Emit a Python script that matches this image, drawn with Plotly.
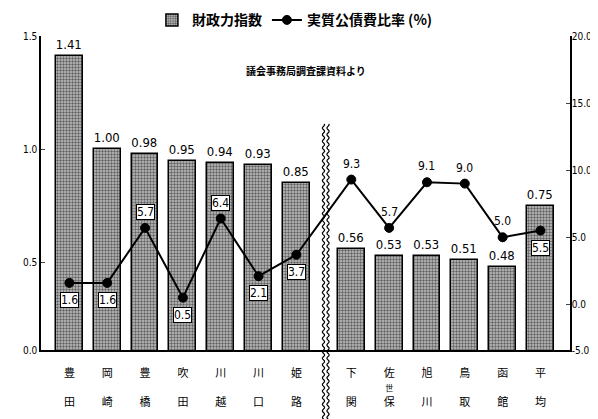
import numpy as np
import plotly.graph_objects as go

cities = ["豊<br> <br>田", "岡<br> <br>崎", "豊<br> <br>橋", "吹<br> <br>田", "川<br> <br>越",
          "川<br> <br>口", "姫<br> <br>路", "下<br> <br>関",
          "佐<br><span style='font-size:8px'>世</span><br>保", "旭<br> <br>川",
          "鳥<br> <br>取", "函<br> <br>館", "平<br> <br>均"]
zaisei = [1.41, 1.00, 0.98, 0.95, 0.94, 0.93, 0.85, 0.56, 0.53, 0.53, 0.51, 0.48, 0.75]
kousai = [1.6, 1.6, 5.7, 0.5, 6.4, 2.1, 3.7, 9.3, 5.7, 9.1, 9.0, 5.0, 5.5]
label_below = [True, True, False, True, False, True, True, False, False, False, False, False, True]
label_boxed = [True, True, True, True, True, True, True, False, False, False, False, False, True]

left_ticks = ["0.0", "0.5", "1.0", "1.5"]
right_ticks = ["-5.0", "0.0", "5.0", "10.0", "15.0", "20.0"]

BREAK_AFTER = 7
GAP = 0.45
xpos = [i + (GAP if i >= BREAK_AFTER else 0) for i in range(len(cities))]

NUM_FONT = "DejaVu Sans Condensed, Noto Sans CJK JP"
JP_FONT = "Noto Sans CJK JP"

fig = go.Figure()
fig.add_trace(go.Bar(
    x=xpos, y=zaisei, name="<b>財政力指数</b>", width=0.71,
    marker=dict(color="#8c8c8c", line=dict(color="black", width=1.5),
                pattern=dict(shape=".", fgcolor="black", bgcolor="#c4c4c4", size=3, solidity=0.5)),
    text=[f"{v:.2f}" for v in zaisei], textposition="outside",
    textfont=dict(family=NUM_FONT, size=13, color="black"),
    cliponaxis=False, yaxis="y",
))
fig.add_trace(go.Scatter(
    x=xpos, y=kousai, name="<b>実質公債費比率 (%)</b>", mode="lines+markers",
    line=dict(color="black", width=2),
    marker=dict(color="black", size=9, line=dict(color="black", width=1)),
    yaxis="y2",
))

for xv, v, below, boxed in zip(xpos, kousai, label_below, label_boxed):
    fig.add_annotation(
        x=xv, y=v, xref="x", yref="y2", text=f"{v:.1f}", showarrow=False,
        yshift=-17 if below else 16,
        font=dict(family=NUM_FONT, size=12, color="black"),
        bgcolor="white" if boxed else None,
        bordercolor="black" if boxed else None, borderwidth=1 if boxed else 0, borderpad=0,
    )

fig.add_annotation(x=0.5, y=0.92, xref="paper", yref="paper", text="<b>議会事務局調査課資料より</b>",
                   showarrow=False, font=dict(family=JP_FONT, size=10, color="black"))

# wavy break marks between the two groups
bx = (xpos[BREAK_AFTER - 1] + xpos[BREAK_AFTER]) / 2 + 0.05
ts = np.linspace(-0.24, 0.72, 300)
for off in (-0.06, 0.06):
    xs = bx + off + 0.03 * np.sin(ts * 300)
    path = "M " + " L ".join(f"{a:.4f},{b:.4f}" for a, b in zip(xs, ts))
    fig.add_shape(type="path", path=path, xref="x", yref="paper",
                  line=dict(color="black", width=1.2))

fig.update_layout(
    width=598, height=419,
    margin=dict(l=33, r=36, t=28, b=77, autoexpand=False),
    paper_bgcolor="white", plot_bgcolor="white",
    font=dict(family=JP_FONT, color="black"),
    showlegend=True,
    legend=dict(orientation="h", x=0.48, xanchor="center", y=1.05, yanchor="middle",
                font=dict(family=JP_FONT, size=14, color="black"), bgcolor="rgba(0,0,0,0)",
                itemwidth=30),
    bargap=0,
    xaxis=dict(range=[-0.75, 13.23], tickmode="array", tickvals=xpos, ticktext=cities,
               showline=True, linecolor="black", linewidth=1.5, ticks="",
               showgrid=False, zeroline=False, ticklabelstandoff=12,
               tickfont=dict(family=JP_FONT, size=11, color="black")),
    yaxis=dict(range=[0.113, 1.5], tickmode="array", tickvals=[0.113, 0.5, 1.0, 1.5], ticktext=left_ticks,
               showline=True, linecolor="black", linewidth=1.5, ticks="inside", ticklen=4,
               showgrid=False, zeroline=False,
               tickfont=dict(family=NUM_FONT, size=10, color="black")),
    yaxis2=dict(range=[-3.4, 20], overlaying="y", side="right", tickmode="array",
                tickvals=[-3.4, 0, 5, 10, 15, 20], ticktext=right_ticks,
                showline=True, linecolor="black", linewidth=1.5, ticks="inside", ticklen=4,
                showgrid=False, zeroline=False, ticklabelstandoff=-2,
                tickfont=dict(family=NUM_FONT, size=10, color="black")),
)

fig.write_html("out.html")
